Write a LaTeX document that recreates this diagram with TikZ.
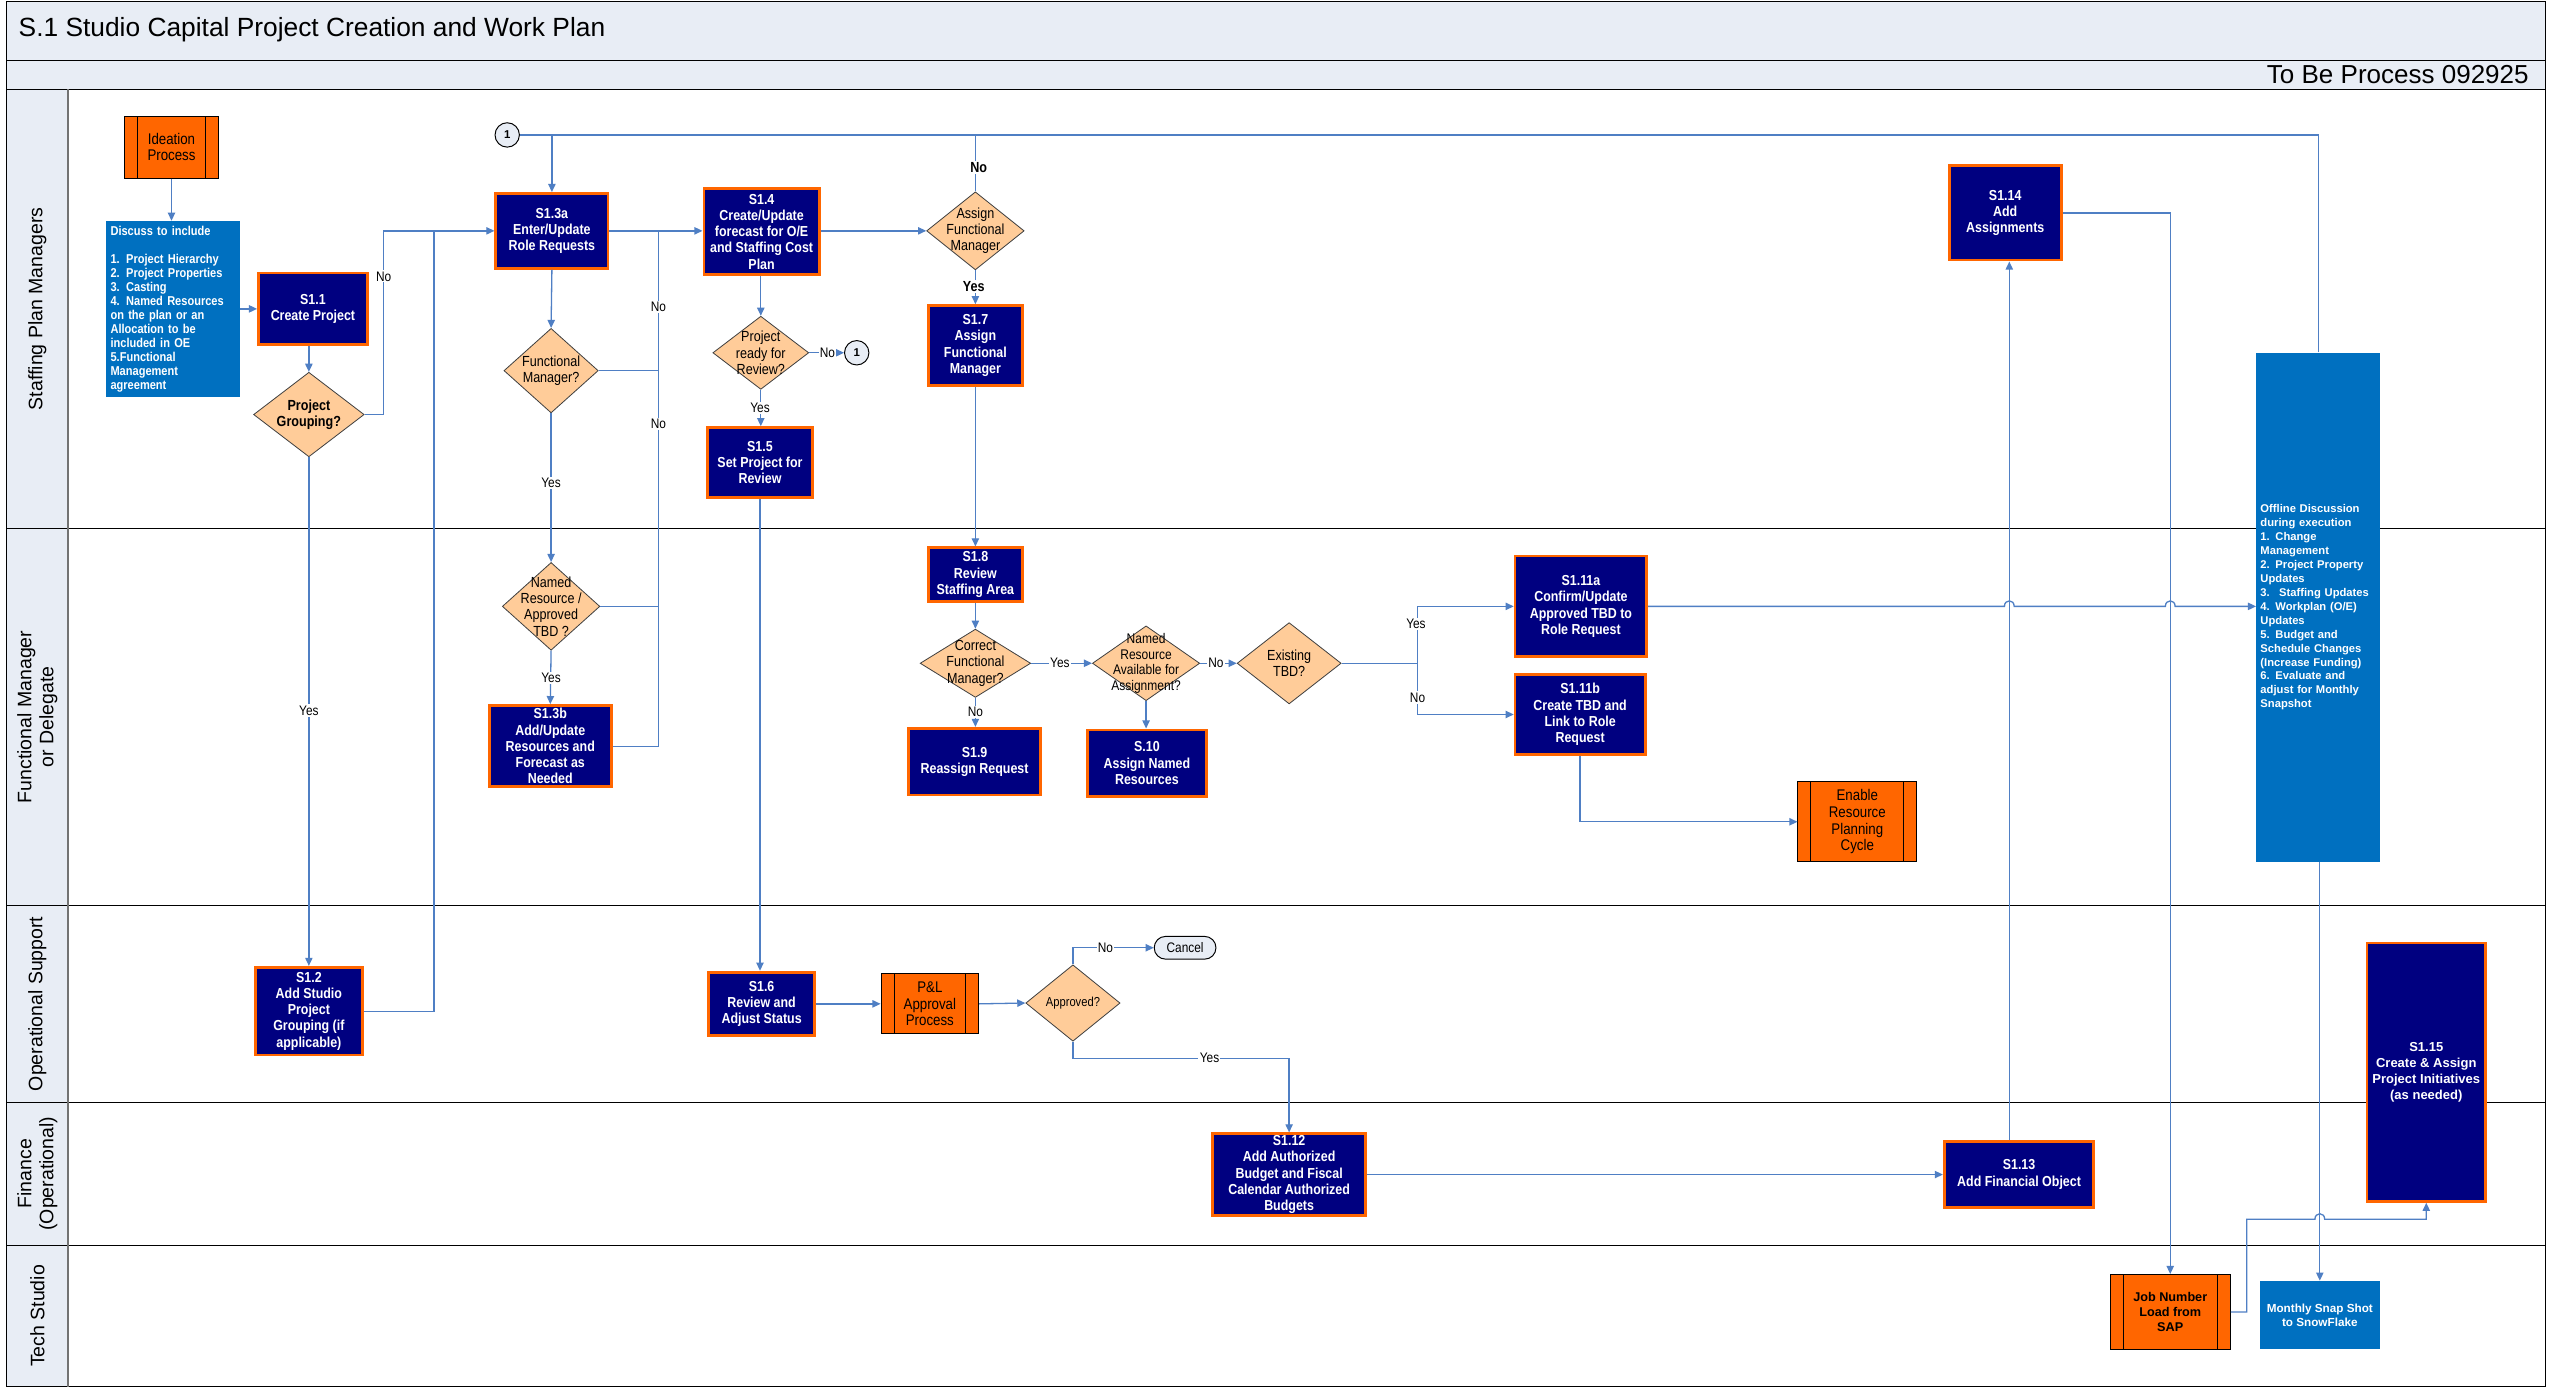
\documentclass[tikz,border=0pt]{standalone}
\usepackage{fontspec}
\setmainfont{Liberation Sans}
\newfontfamily\nar[FakeStretch=0.86]{Liberation Sans}
\usetikzlibrary{shapes.geometric,arrows.meta}
\definecolor{navy}{HTML}{000080}
\definecolor{orangeB}{HTML}{FF6600}
\definecolor{peach}{HTML}{FFCC99}
\definecolor{blueBox}{HTML}{0070C0}
\definecolor{lineBlue}{HTML}{4F7FC4}
\definecolor{hdr}{HTML}{E8EDF5}
\tikzset{
  sz/.style 2 args={minimum width=#1pt, minimum height=#2pt},
  sbox/.style={draw=orangeB, line width=1.7pt, fill=navy, text=white, font=\nar\bfseries\fontsize{8.9}{10}\selectfont, align=center, inner sep=1pt},
  sub/.style={draw=black, line width=0.6pt, fill=orangeB, text=black, font=\nar\fontsize{9.5}{10.2}\selectfont, align=center, inner sep=1pt,
    path picture={\draw[line width=0.6pt] ([xshift=8pt]path picture bounding box.north west) -- ([xshift=8pt]path picture bounding box.south west);
                  \draw[line width=0.6pt] ([xshift=-8pt]path picture bounding box.north east) -- ([xshift=-8pt]path picture bounding box.south east);}},
  dia/.style={diamond, draw=black!75, fill=peach, line width=0.5pt, inner sep=0pt},
  dtext/.style={font=\nar\fontsize{9}{10}\selectfont, align=center, text=black, inner sep=0pt},
  note/.style={fill=blueBox, text=white, align=left, inner sep=2.5pt},
  lbl/.style={fill=white, inner sep=0.8pt, font=\nar\fontsize{8.5}{9}\selectfont, text=black},
  blbl/.style={fill=white, inner sep=0.8pt, font=\nar\bfseries\fontsize{9}{9}\selectfont, text=black},
  conn/.style={draw=lineBlue, line width=0.8pt},
  arr/.style={conn, -{Triangle[length=5pt,width=4.5pt]}},
  offc/.style={circle, draw=black, fill=hdr, line width=0.6pt, minimum size=15pt, inner sep=0pt, font=\bfseries\fontsize{7}{8}\selectfont},
  lane/.style={rotate=90, font=\fontsize{12}{13.5}\selectfont, align=center, text=black}
}
\begin{document}
\begin{tikzpicture}[x=1pt,y=-1pt]
\useasboundingbox (0,0) rectangle (1568,855);
% frame and lanes
\fill[white] (0,0) rectangle (1568,855);
\draw[line width=0.8pt, fill=hdr] (4,1) rectangle (1566,37);
\draw[line width=0.8pt, fill=hdr] (4,37) rectangle (1566,55);
\fill[hdr] (4,55) rectangle (42,853);
\draw[line width=0.8pt] (4,55) rectangle (1566,853);
\foreach \yy in {325,557,678,766} \draw[line width=0.8pt] (4,\yy) -- (1566,\yy);
\draw[line width=1.4pt, black!55] (42,55) -- (42,853);
\node[anchor=west, font=\fontsize{16.2}{18}\selectfont] (title) at (8,18) {S.1 Studio Capital Project Creation and Work Plan};
\node[anchor=east, font=\fontsize{16}{18}\selectfont] (tobe) at (1559,46) {To Be Process 092925};
\node[lane] (l1) at (23,190) {Staffing Plan Managers};
\node[lane] (l2) at (23,441) {Functional Manager\\or Delegate};
\node[lane] (l3) at (23,617.5) {Operational Support};
\node[lane] (l4) at (23,722) {Finance\\(Operational)};
\node[lane] (l5) at (23,809.5) {Tech Studio};

% nodes
\node[sub, sz={58}{38}] (ideation) at (105.5,90.5) {Ideation\\Process};
\node[note, sz={81}{108}, text width=77pt, font=\nar\bfseries\fontsize{7.9}{8.6}\selectfont] (discuss) at (106.5,190) {Discuss to include\\[8.6pt]1. Project Hierarchy\\2. Project Properties\\3. Casting\\4. Named Resources\\on the plan or an\\Allocation to be\\included in OE\\5.Functional\\Management\\agreement};
\node[sbox, sz={67}{44}] (s11) at (192.5,190) {S1.1\\Create Project};
\node[dia, sz={68}{52}] (pg) at (190,255) {};
\node[dtext, font=\nar\bfseries\fontsize{9}{10}\selectfont] (pgt) at (190,255) {Project\\Grouping?};
\node[sbox, sz={69}{46}] (s13a) at (339.5,142) {S1.3a\\Enter/Update\\Role Requests};
\node[dia, sz={58}{52}] (fm) at (339,228) {};
\node[dtext] (fmt) at (339,228) {Functional\\Manager?};
\node[dia, sz={60}{54}] (nr) at (339,373) {};
\node[dtext] (nrt) at (339,373) {Named\\Resource /\\Approved\\TBD ?};
\node[sbox, sz={75}{50}] (s13b) at (338.5,459) {S1.3b\\Add/Update\\Resources and\\Forecast as\\Needed};
\node[sbox, sz={71}{53}] (s14) at (468.5,142.5) {S1.4\\Create/Update\\forecast for O/E\\and Staffing Cost\\Plan};
\node[dia, sz={59}{45}] (prr) at (468,217) {};
\node[dtext] (prrt) at (468,217) {Project\\ready for\\Review?};
\node[offc] (c1b) at (527,217) {1};
\node[sbox, sz={65}{43}] (s15) at (467.5,284.5) {S1.5\\Set Project for\\Review};
\node[offc] (c1a) at (312,83) {1};
\node[dia, sz={60}{48}] (afm) at (600,142) {};
\node[dtext] (afmt) at (600,142) {Assign\\Functional\\Manager};
\node[sbox, sz={58}{49}] (s17) at (600,212.5) {S1.7\\Assign\\Functional\\Manager};
\node[sbox, sz={58}{33}] (s18) at (600,353.5) {S1.8\\Review\\Staffing Area};
\node[dia, sz={68}{42}] (cfm) at (600,408) {};
\node[dtext] (cfmt) at (600,408) {Correct\\Functional\\Manager?};
\node[sbox, sz={81}{41}] (s19) at (599.5,468.5) {S1.9\\Reassign Request};
\node[dia, sz={66}{46}] (nra) at (705,408) {};
\node[dtext, font=\nar\fontsize{8.6}{9.6}\selectfont] (nrat) at (705,408) {Named\\Resource\\Available for\\Assignment?};
\node[sbox, sz={73}{41}] (s110) at (705.5,469.5) {S.10\\Assign Named\\Resources};
\node[dia, sz={64}{50}] (etbd) at (793,408) {};
\node[dtext] (etbdt) at (793,408) {Existing\\TBD?};
\node[sbox, sz={81}{62}] (s111a) at (972.5,373) {S1.11a\\Confirm/Update\\Approved TBD to\\Role Request};
\node[sbox, sz={80}{49}] (s111b) at (972,439.5) {S1.11b\\Create TBD and\\Link to Role\\Request};
\node[sub, sz={73}{49}] (erp) at (1142.5,505.5) {Enable\\Resource\\Planning\\Cycle};
\node[note, sz={76}{313}, text width=71pt, font=\bfseries\fontsize{6.9}{8.6}\selectfont] (offline) at (1426,373.5) {Offline Discussion\\during execution\\1. Change\\Management\\2. Project Property\\Updates\\3.~ Staffing Updates\\4. Workplan (O/E)\\Updates\\5. Budget and\\Schedule Changes\\(Increase Funding)\\6. Evaluate and\\adjust for Monthly\\Snapshot};
\node[sbox, sz={69}{58}] (s114) at (1233.5,131) {S1.14\\Add\\Assignments};
\node[sbox, sz={66}{54}] (s12) at (190,622) {S1.2\\Add Studio\\Project\\Grouping (if\\applicable)};
\node[sbox, sz={65}{39}] (s16) at (468.5,617.5) {S1.6\\Review and\\Adjust Status};
\node[sub, sz={60}{37}] (pl) at (572,617.5) {P\&L\\Approval\\Process};
\node[dia, sz={58}{47}] (appr) at (660,617) {};
\node[dtext, font=\nar\fontsize{8}{9}\selectfont] (apprt) at (660,617) {Approved?};
\node[draw=black, fill=hdr, rounded corners=7pt, line width=0.6pt, sz={38}{14}, inner sep=0pt, font=\nar\fontsize{8.5}{9}\selectfont] (cancel) at (729,583) {Cancel};
\node[sbox, sz={94}{49}] (s112) at (793,722.5) {S1.12\\Add Authorized\\Budget and Fiscal\\Calendar Authorized\\Budgets};
\node[sbox, sz={92}{41}] (s113) at (1242,722.5) {S1.13\\Add Financial Object};
\node[sbox, sz={73}{159}, font=\bfseries\fontsize{8}{9.8}\selectfont] (s115) at (1492.5,659.5) {S1.15\\Create \& Assign\\Project Initiatives\\(as needed)};
\node[sub, sz={74}{46}, font=\bfseries\fontsize{7.8}{9.5}\selectfont] (job) at (1335,807) {Job Number\\Load from\\SAP};
\node[note, sz={74}{42}, align=center, font=\bfseries\fontsize{7.2}{8.5}\selectfont] (snap) at (1427,809) {Monthly Snap Shot\\to SnowFlake};

% connectors
\draw[arr] (ideation.south) -- (ideation.south |- discuss.north);
\draw[arr] (discuss.east) -- (s11.west);
\draw[arr] (s11.south -| pg) -- (pg.north);
\draw[arr] (pg.east) -- (236,255) |- (s13a.west);
\node[lbl] (lno1) at (236,170) {No};
\draw[arr] (pg.south) -- (s12.north);
\node[lbl] (lyes1) at (190,437) {Yes};
\draw[conn] (s12.east) -| (267,142);
\draw[conn] (offline.north) |- (c1a.east);
\draw[arr] (s13a.north |- c1a) -- (s13a.north);
\draw[conn] (afm.north |- c1a) -- (afm.north);
\node[blbl] (lno2) at (602,103) {No};
\draw[arr] (s13a.east) -- (s14.west |- s13a.east);
\draw[arr] (s13a.south) -- (fm.north);
\draw[arr] (fm.south) -- (nr.north);
\node[lbl] (lyes2) at (339,297) {Yes};
\draw[arr] (nr.south) -- (s13b.north);
\node[lbl] (lyes3) at (339,417) {Yes};
\draw[conn] (fm.east) -- (405,228);
\draw[conn] (nr.east) -- (405,373);
\draw[conn] (s13b.east) -| (405,142);
\node[lbl] (lno3) at (405,189) {No};
\node[lbl] (lno4) at (405,261) {No};
\draw[arr] (s14.south -| prr) -- (prr.north);
\draw[arr] (prr.east) -- (c1b.west);
\node[lbl] (lno5) at (509,217) {No};
\draw[arr] (prr.south) -- (prr.south |- s15.north);
\node[lbl] (lyes4) at (467.5,251) {Yes};
\draw[arr] (s14.east |- afm) -- (afm.west);
\draw[arr] (afm.south) -- (s17.north);
\node[blbl] (lyes5) at (599,176) {Yes};
\draw[arr] (s17.south) -- (s18.north);
\draw[arr] (s15.south) -- (s15.south |- s16.north);
\draw[arr] (s18.south) -- (cfm.north);
\draw[arr] (cfm.east) -- (nra.west);
\node[lbl] (lyes6) at (652,408) {Yes};
\draw[arr] (cfm.south) -- (cfm.south |- s19.north);
\node[lbl] (lno6) at (600,438) {No};
\draw[arr] (nra.south) -- (nra.south |- s110.north);
\draw[arr] (nra.east) -- (etbd.west);
\node[lbl] (lno7) at (748,408) {No};
\draw[arr] (etbd.east) -- (872,408) |- (s111a.west);
\draw[arr] (872,408) |- (s111b.west);
\node[lbl] (lyes7) at (871,384) {Yes};
\node[lbl] (lno8) at (872,429) {No};
\draw[arr] (s111a.east) -- (1233,373) .. controls (1233,368.5) and (1239,368.5) .. (1239,373) -- (1332,373) .. controls (1332,368.5) and (1338,368.5) .. (1338,373) -- (offline.west |- s111a.east);
\draw[arr] (s111b.south) |- (erp.west);
\draw[arr] (s16.east) -- (pl.west);
\draw[arr] (pl.east) -- (appr.west);
\draw[arr] (appr.north) |- (cancel.west);
\node[lbl] (lno9) at (680,583) {No};
\draw[arr] (appr.south) -- (660,651) -| (s112.north);
\node[lbl] (lyes8) at (744,651) {Yes};
\draw[arr] (s112.east) -- (s113.west);
\draw[arr] ([xshift=-6pt]s113.north) -- ([xshift=2.5pt]s114.south);
\draw[arr] (s114.east) -| (job.north);
\draw[arr] ([xshift=1pt]offline.south) -- ([xshift=1pt]offline.south |- snap.north);
\draw[arr] (job.east) -- (1382,807) -- (1382,750) -- (1424,750) .. controls (1424,745.5) and (1430,745.5) .. (1430,750) -- (1492.5,750) -- (s115.south);
\end{tikzpicture}
\end{document}
